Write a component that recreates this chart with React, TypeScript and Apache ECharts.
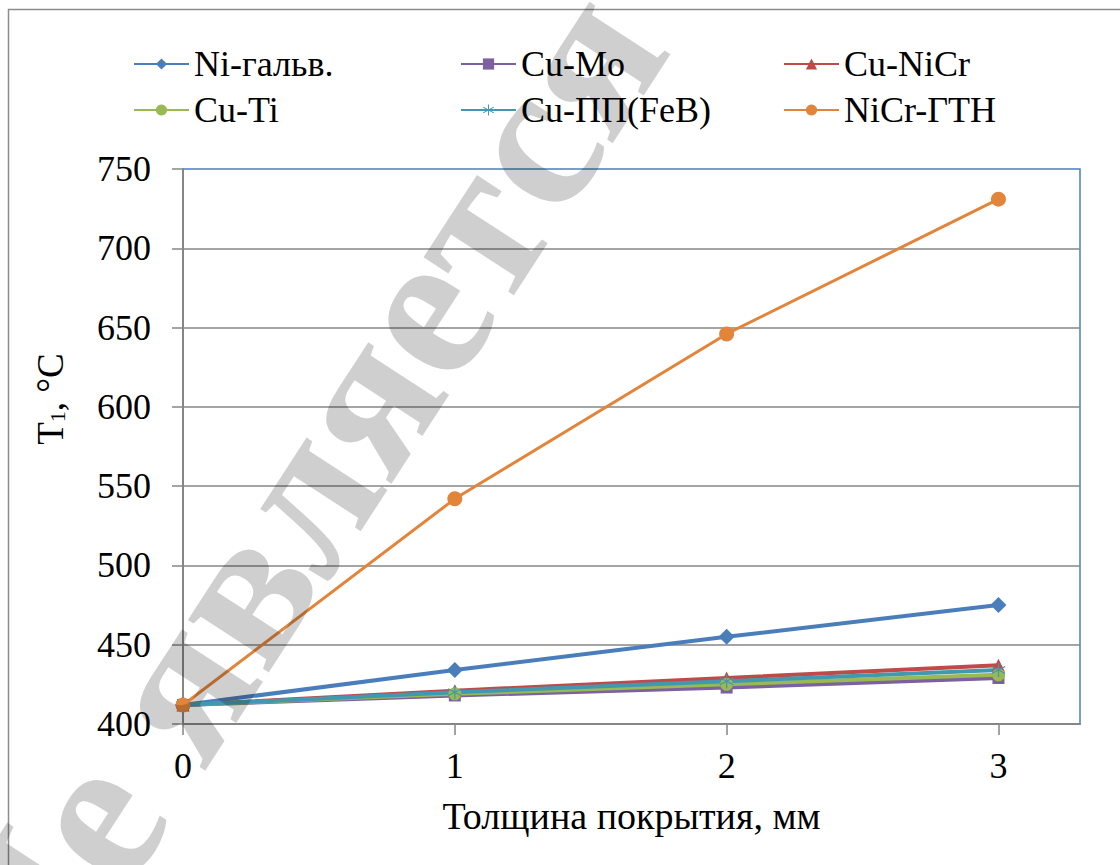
import React, { useEffect, useRef } from "react";
import * as echarts from "echarts";

// Coating thickness, mm
const thickness = [0, 1, 2, 3];
const xTickValues = [0, 1, 2, 3];

// Temperature T1, °C for each coating system
const niGalv = [412, 434, 455, 475];
const cuMo = [412, 418, 423, 429];
const cuNiCr = [412, 421, 429, 437];
const cuTi = [412, 419, 425, 431];
const cuPP = [412, 420, 427, 434];
const niCrGTN = [412, 542, 646, 731];

const seriesNames = ["Ni-гальв.", "Cu-Mo", "Cu-NiCr", "Cu-Ti", "Cu-ПП(FeB)", "NiCr-ГТН"];

const FONT = "Liberation Serif";

// asterisk marker built from three bars with the same winding
const ASTERISK =
  "path://M9.2 0L10.8 0L10.8 20L9.2 20Z" +
  "M1.74 4.31L19.06 14.31L18.26 15.69L0.94 5.69Z" +
  "M19.06 5.69L1.74 15.69L0.94 14.31L18.26 4.31Z";

const toPoints = (vals: number[]) => thickness.map((x, i) => [x, vals[i]]);

export default function App() {
  const ref = useRef<HTMLDivElement>(null);

  useEffect(() => {
    if (!ref.current) return;
    const chart = echarts.init(ref.current, null, { renderer: "svg" });

    const lineSeries = (
      name: string,
      vals: number[],
      color: string,
      symbol: string,
      symbolSize: number,
      width: number
    ) => ({
      name,
      type: "line",
      data: toPoints(vals),
      symbol,
      symbolSize,
      showAllSymbol: true,
      lineStyle: { color, width },
      itemStyle: { color },
      emphasis: { disabled: true },
    });

    const legendBase = {
      orient: "vertical",
      top: 46,
      padding: 0,
      itemWidth: 55,
      itemHeight: 14,
      itemGap: 10,
      selectedMode: false,
      textStyle: { fontSize: 36, fontFamily: FONT, color: "#000", lineHeight: 34 },
    };

    chart.setOption({
      animation: false,
      backgroundColor: "#fff",
      textStyle: { fontFamily: FONT },
      grid: {
        left: 183,
        top: 169,
        right: 40,
        bottom: 141,
        show: true,
        borderColor: "#4a7ebb",
        borderWidth: 1.5,
        backgroundColor: "transparent",
        containLabel: false,
        outerBoundsMode: "none",
      },
      legend: [
        { ...legendBase, left: 133, data: [seriesNames[0], seriesNames[3]] },
        { ...legendBase, left: 460, data: [seriesNames[1], seriesNames[4]] },
        { ...legendBase, left: 783, data: [seriesNames[2], seriesNames[5]] },
      ],
      xAxis: {
        type: "value",
        min: 0,
        max: 3.3,
        interval: 1,
        name: "Толщина покрытия, мм",
        nameLocation: "middle",
        nameGap: 73,
        nameTextStyle: { fontSize: 38, fontFamily: FONT, color: "#000" },
        axisLine: { lineStyle: { color: "#868686", width: 2 } },
        axisTick: { show: true, length: 11, customValues: xTickValues, lineStyle: { color: "#868686", width: 1.5 } },
        axisLabel: { customValues: xTickValues, fontSize: 36, fontFamily: FONT, color: "#000", margin: 24 },
        splitLine: { show: false },
      },
      yAxis: {
        type: "value",
        min: 400,
        max: 750,
        interval: 50,
        axisLine: { show: true, lineStyle: { color: "#868686", width: 2 } },
        axisTick: { show: true, length: 11, lineStyle: { color: "#868686", width: 1.5 } },
        axisLabel: { fontSize: 36, fontFamily: FONT, color: "#000", margin: 32 },
        splitLine: { show: true, showMaxLine: false, lineStyle: { color: "#868686", width: 1.6 } },
      },
      graphic: [
        {
          type: "rect",
          z: 0,
          silent: true,
          shape: { x: 8.5, y: 9.5, width: 1200, height: 1000 },
          style: { fill: "none", stroke: "#8c8c8c", lineWidth: 1.5 },
        },
        {
          type: "text",
          x: 50,
          y: 399,
          rotation: Math.PI / 2,
          silent: true,
          style: {
            text: "T{s|1}, °C",
            fontSize: 37,
            fontFamily: FONT,
            fill: "#000",
            lineHeight: 36,
            align: "center",
            verticalAlign: "middle",
            rich: {
              s: { fontSize: 22, fontFamily: FONT, fill: "#000", lineHeight: 10, verticalAlign: "bottom" },
            },
          },
        },
        {
          type: "text",
          x: -24,
          y: 993,
          z: 100,
          rotation: (57 * Math.PI) / 180,
          silent: true,
          style: {
            text: "Не является официальным документом",
            fontSize: 210,
            fontWeight: "bold",
            fontFamily: FONT,
            fill: "rgba(0,0,0,0.19)",
            align: "left",
            verticalAlign: "middle",
          },
        },
      ],
      series: [
        lineSeries(seriesNames[0], niGalv, "#4a7ebb", "diamond", 16, 4),
        lineSeries(seriesNames[1], cuMo, "#7d60a0", "rect", 12, 4),
        lineSeries(seriesNames[2], cuNiCr, "#be4b48", "triangle", 13, 4),
        lineSeries(seriesNames[3], cuTi, "#98b954", "circle", 13, 4),
        lineSeries(seriesNames[4], cuPP, "#4198af", ASTERISK, 14, 4),
        lineSeries(seriesNames[5], niCrGTN, "#e2843a", "circle", 15, 3),
      ],
    });

    return () => chart.dispose();
  }, []);

  return (
    <div
      ref={ref}
      style={{ position: "fixed", left: 0, top: 0, width: 1120, height: 865, background: "#fff" }}
    />
  );
}
